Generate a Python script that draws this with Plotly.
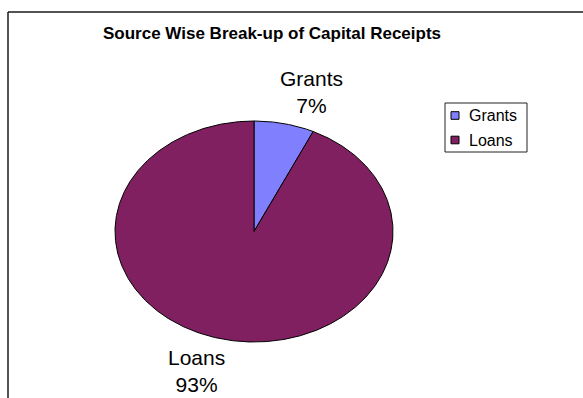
import numpy as np
import plotly.graph_objects as go

# Capital receipts by source (percent of total)
categories = ["Grants", "Loans"]
shares = [7, 93]
colors = ["#8080FF", "#802060"]

W, H = 583, 398
# elliptical pie geometry in pixel units
cx, cy, rx, ry = 254, 231.5, 139, 110.5
FONT = "Arial, Liberation Sans, sans-serif"

fig = go.Figure()

total = float(sum(shares))
start = 0.0
for name, val, col in zip(categories, shares, colors):
    sweep = 360.0 * val / total
    t = np.radians(np.linspace(start, start + sweep, max(int(sweep * 2), 6)))
    xs = np.concatenate([[cx], cx + rx * np.sin(t), [cx]])
    ys = np.concatenate([[cy], cy - ry * np.cos(t), [cy]])
    fig.add_trace(go.Scatter(
        x=xs, y=ys, mode="lines", fill="toself", fillcolor=col,
        line=dict(color="black", width=1), name=name, showlegend=False,
        hoverinfo="skip",
    ))
    mid = np.radians(start + sweep / 2)
    fig.add_annotation(
        x=cx + 1.9 * rx * np.sin(mid), y=cy - 1.29 * ry * np.cos(mid),
        text=f"{name}<br>{val}%", showarrow=False, borderpad=0,
        font=dict(family=FONT, size=21, color="black"),
    )
    start += sweep

# legend: framed box with swatch + label per category
lx0, ly0, lx1, ly1 = 445, 103, 527, 152
fig.add_shape(type="rect", x0=lx0, y0=ly0, x1=lx1, y1=ly1,
              line=dict(color="#222222", width=1), fillcolor="white")
row_y = [115.5, 140.0]
for name, col, yy in zip(categories, colors, row_y):
    fig.add_shape(type="rect", x0=451, x1=459, y0=yy - 3.8, y1=yy + 3.8,
                  line=dict(color="black", width=1), fillcolor=col)
    fig.add_annotation(x=467, y=yy, text=name, showarrow=False,
                       xanchor="left", yanchor="middle",
                       font=dict(family=FONT, size=16, color="black"))

fig.add_annotation(
    x=272, y=33, text="<b>Source Wise Break-up of Capital Receipts</b>",
    showarrow=False, font=dict(family=FONT, size=17, color="black"),
)

# chart frame
fig.add_shape(type="line", x0=8, y0=12, x1=W + 5, y1=12,
              line=dict(color="#1a1a1a", width=1.5))
fig.add_shape(type="line", x0=8, y0=12, x1=8, y1=H + 5,
              line=dict(color="#1a1a1a", width=1.5))

fig.update_layout(
    width=W, height=H,
    margin=dict(l=0, r=0, t=0, b=0),
    paper_bgcolor="white", plot_bgcolor="white",
    xaxis=dict(range=[0, W], visible=False, fixedrange=True),
    yaxis=dict(range=[H, 0], visible=False, fixedrange=True),
    showlegend=False,
)

fig.write_html("out.html")
